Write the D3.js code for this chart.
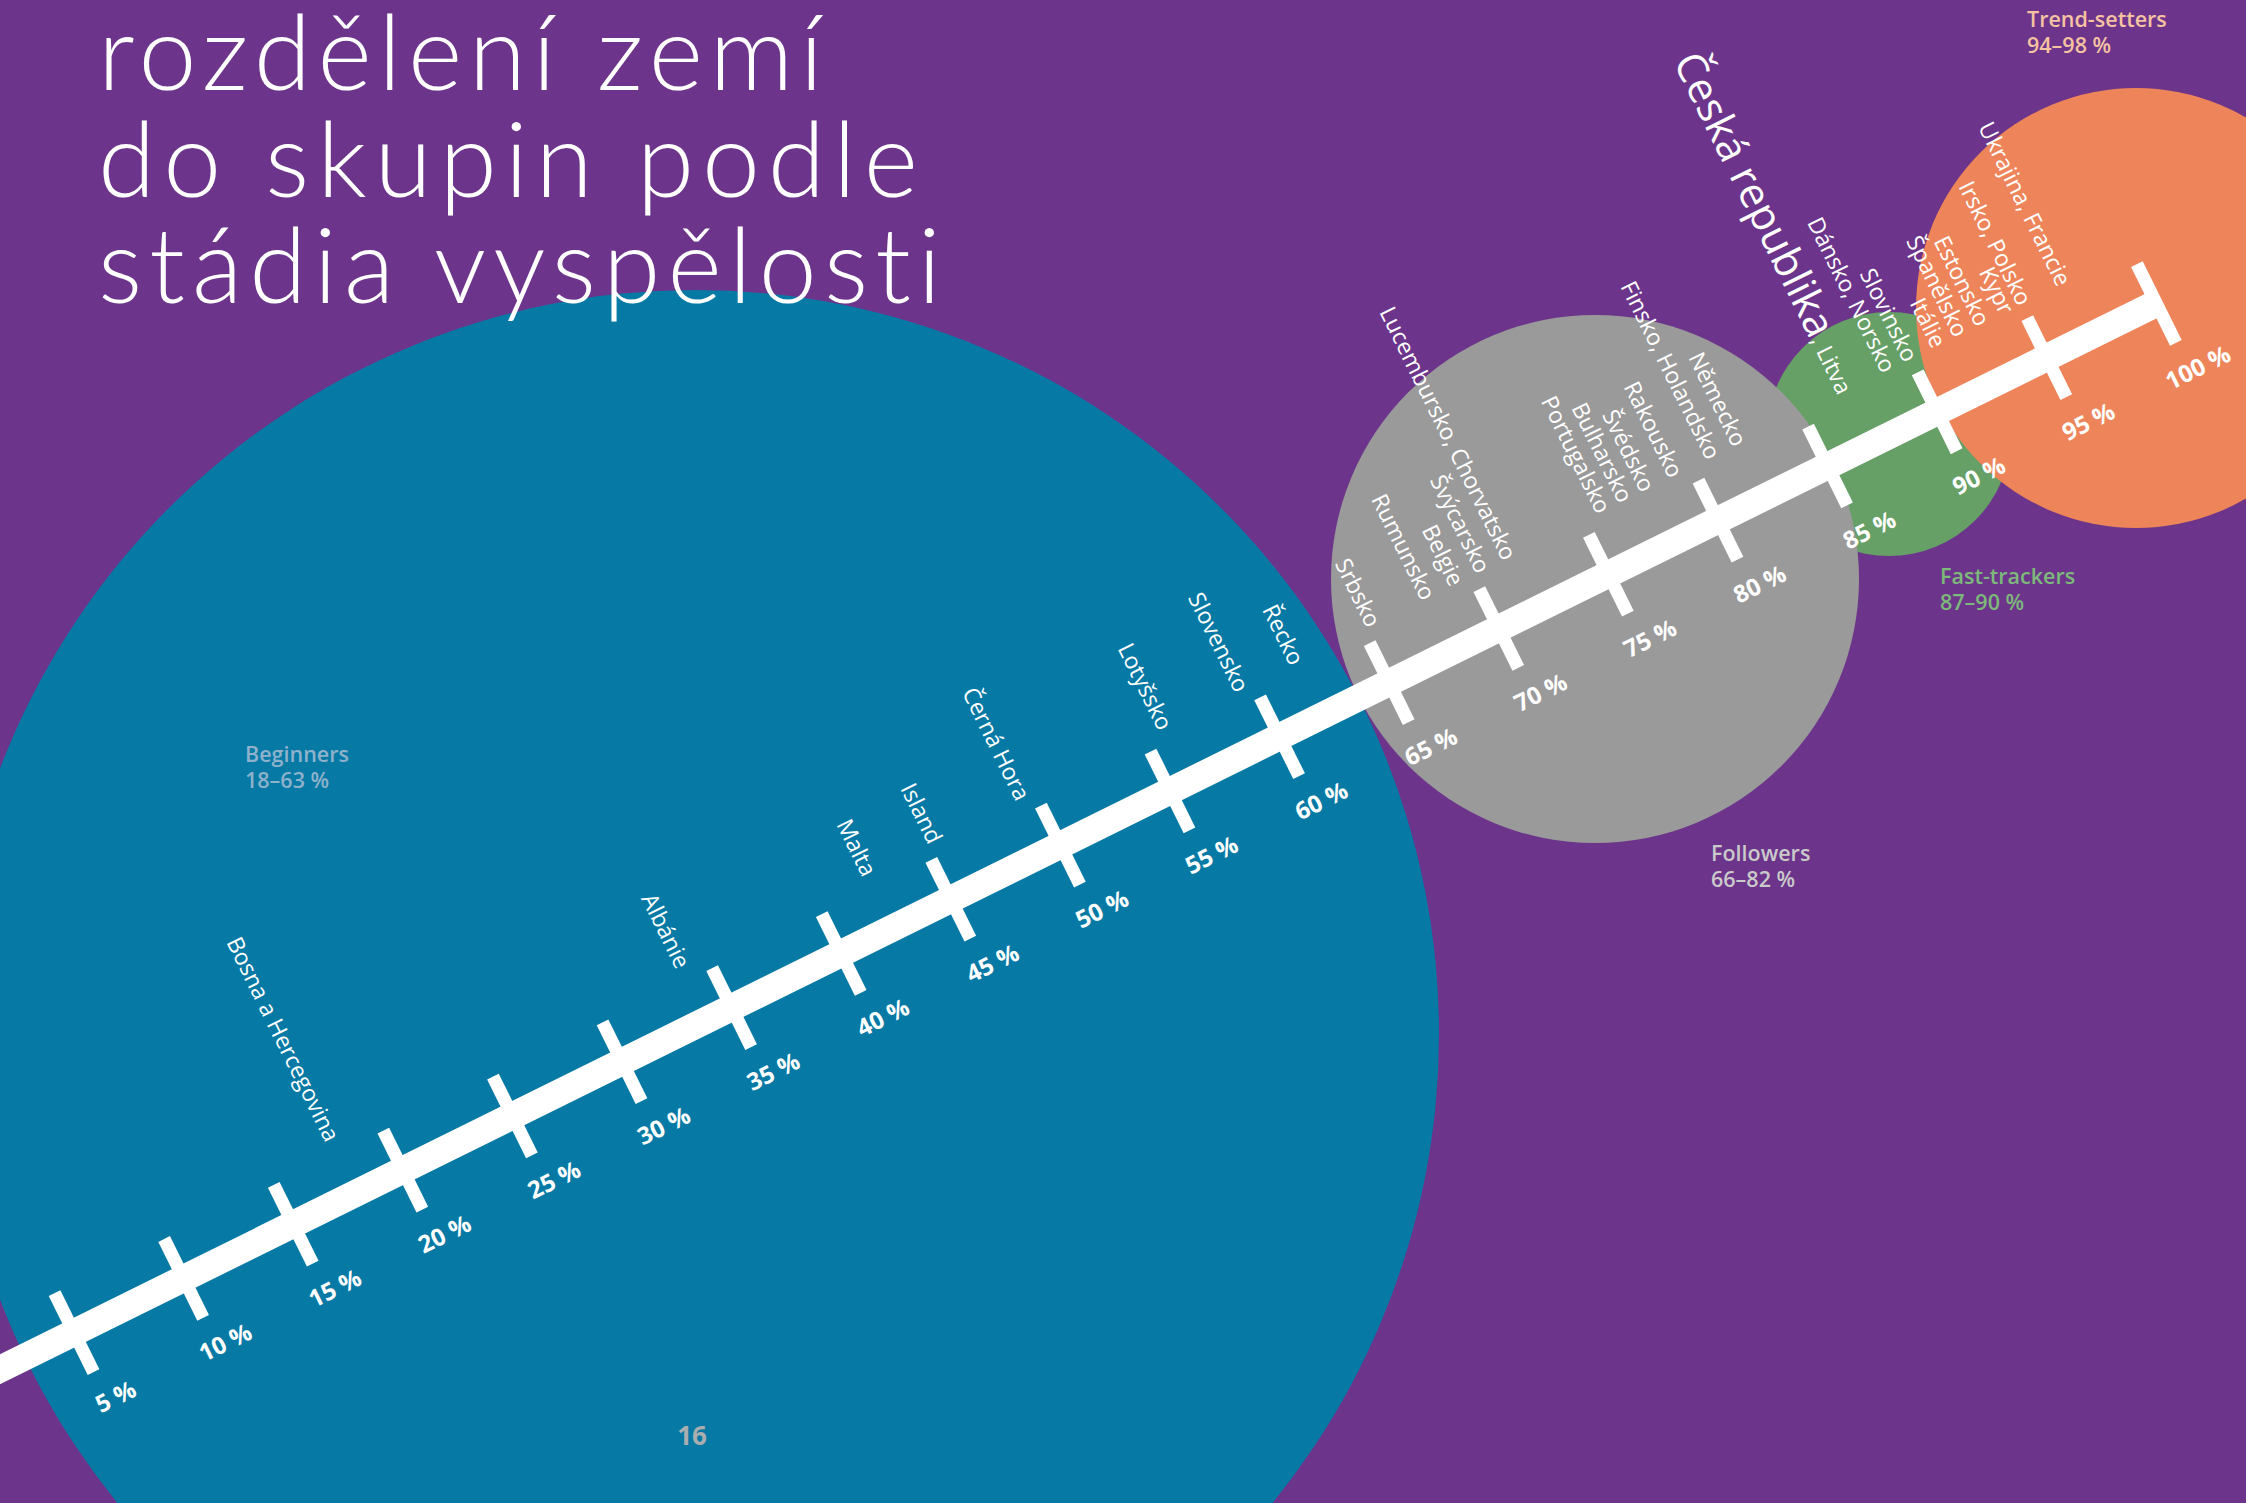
<!DOCTYPE html>
<html>
<head>
<meta charset="utf-8">
<script src="https://cdn.jsdelivr.net/npm/d3@7"></script>
<style>
  body { margin: 0; background: #6c358b; }
  svg { display: block; }
  text { font-variant-ligatures: none; }
</style>
</head>
<body>
<div id="chart"></div>
<script>
// ---- data ----
const titleLines = ["rozdělení zemí", "do skupin podle", "stádia vyspělosti"]

const groups = ["Beginners", "Followers", "Fast-trackers", "Trend-setters"]
const groupRanges = ["18–63 %", "66–82 %", "87–90 %", "94–98 %"]

const countries = [
  "Bosna a Hercegovina", "Albánie", "Malta", "Island", "Černá Hora", "Lotyšsko", "Slovensko", "Řecko",
  "Srbsko", "Rumunsko", "Belgie", "Švýcarsko", "Lucembursko, Chorvatsko", "Portugalsko", "Bulharsko",
  "Švédsko", "Rakousko", "Finsko, Holandsko", "Německo",
  "Česká republika, Litva", "Dánsko, Norsko", "Slovinsko",
  "Itálie", "Španělsko", "Estonsko", "Kypr", "Irsko, Polsko", "Ukrajina, Francie"
]
const countryValues = [
  18, 34, 42.5, 45.5, 49.5, 56, 59.5, 62,
  65.5, 68, 69.3, 70.5, 71.7, 76, 77,
  78, 79.3, 81, 82.2,
  87, 89, 90,
  91.3, 92.3, 93.3, 94.4, 95.2, 97
]
const highlight = "Česká republika"

const tickValues = d3.range(5, 101, 5)
const pageNumber = "16"

// ---- layout ----
const W = 2246, H = 1503
const bg = "#6c358b"
// circle per group: position / size / colour, plus where its legend sits
const circleLayout = {
  "Beginners":     { cx: 695,  cy: 1034, r: 744, fill: "#0679a5", text: "#8fb2cc", lx: 245,  ly: 762 },
  "Followers":     { cx: 1595, cy: 579,  r: 264, fill: "#9a9a9a", text: "#cacaca", lx: 1711, ly: 861 },
  "Fast-trackers": { cx: 1889, cy: 434,  r: 122, fill: "#66a066", text: "#7db97a", lx: 1940, ly: 584 },
  "Trend-setters": { cx: 2136, cy: 308,  r: 220, fill: "#ee855a", text: "#f5c2a2", lx: 2027, ly: 27 }
}
const drawOrder = ["Beginners", "Fast-trackers", "Followers", "Trend-setters"]

const font = "'Open Sans', 'Noto Sans', sans-serif"

const svg = d3.select('#chart')
              .append('svg')
              .attr('width', W)
              .attr('height', H)

svg.append('rect').attr('width', W).attr('height', H).attr('fill', bg)

// group circles
svg.append('g')
   .selectAll('circle')
   .data(drawOrder)
   .join('circle')
   .attr('cx', d => circleLayout[d].cx)
   .attr('cy', d => circleLayout[d].cy)
   .attr('r', d => circleLayout[d].r)
   .attr('fill', d => circleLayout[d].fill)

// group legends
const legend = svg.append('g')
                  .selectAll('text')
                  .data(groups)
                  .join('text')
                  .attr('x', d => circleLayout[d].lx)
                  .attr('y', d => circleLayout[d].ly)
                  .attr('fill', d => circleLayout[d].text)
                  .attr('font-family', font)
                  .attr('font-weight', 600)
                  .attr('font-size', 21.5)
legend.append('tspan').text(d => d)
legend.append('tspan')
      .attr('x', d => circleLayout[d].lx)
      .attr('dy', 26)
      .text((d, i) => groupRanges[i])

// title
svg.append('g')
   .selectAll('text')
   .data(titleLines)
   .join('text')
   .attr('x', 98)
   .attr('y', (d, i) => 90 + i * 106.5)
   .attr('fill', '#fff')
   .attr('font-family', "Lato, 'Open Sans', sans-serif")
   .attr('font-weight', 300)
   .attr('font-size', 104)
   .attr('textLength', (d, i) => [725, 820, 843][i])
   .attr('lengthAdjust', 'spacing')
   .text(d => d)

// page number
svg.append('text')
   .attr('x', 692).attr('y', 1445)
   .attr('text-anchor', 'middle')
   .attr('fill', '#aaaeb0')
   .attr('font-family', font)
   .attr('font-weight', 700)
   .attr('font-size', 26)
   .text(pageNumber)

// ---- the slanted percentage axis ----
const x = d3.scaleLinear().domain([0, 100]).range([0, 2445])

const axisG = svg.append('g')
                 .attr('transform', 'translate(-36,1387) rotate(-26.3)')

axisG.append('line')
     .attr('x1', x(-10)).attr('x2', x(100))
     .attr('stroke', '#fff')
     .attr('stroke-width', 27)

const axis = d3.axisBottom(x)
               .tickValues(tickValues)
               .tickSize(0)
               .tickFormat(d => d + ' %')

axisG.append('g')
     .call(axis)
     .call(g => {
        g.attr('font-family', font).attr('font-size', 24).attr('font-weight', 700)
        g.select('.domain').remove()
        g.selectAll('.tick line')
         .attr('y1', -44).attr('y2', 44)
         .attr('stroke', '#fff')
         .attr('stroke-width', 13)
        g.selectAll('.tick text')
         .attr('x', 9).attr('y', 76).attr('dy', '0.35em')
         .attr('fill', '#fff')
     })

// country labels, reading down towards their value on the axis
const labels = axisG.append('g')
                    .selectAll('text')
                    .data(d3.zip(countries, countryValues))
                    .join('text')
                    .attr('transform', d => `translate(${x(d[1])},-58) rotate(90)`)
                    .attr('text-anchor', 'end')
                    .attr('dy', '0.35em')
                    .attr('fill', '#fff')
                    .attr('font-family', font)
                    .attr('font-size', 23)

labels.each(function(d) {
    const t = d3.select(this)
    if (d[0].startsWith(highlight)) {
        t.append('tspan').attr('font-size', 42).text(highlight)
        t.append('tspan').text(d[0].slice(highlight.length))
    } else {
        t.text(d[0])
    }
})
</script>
</body>
</html>
